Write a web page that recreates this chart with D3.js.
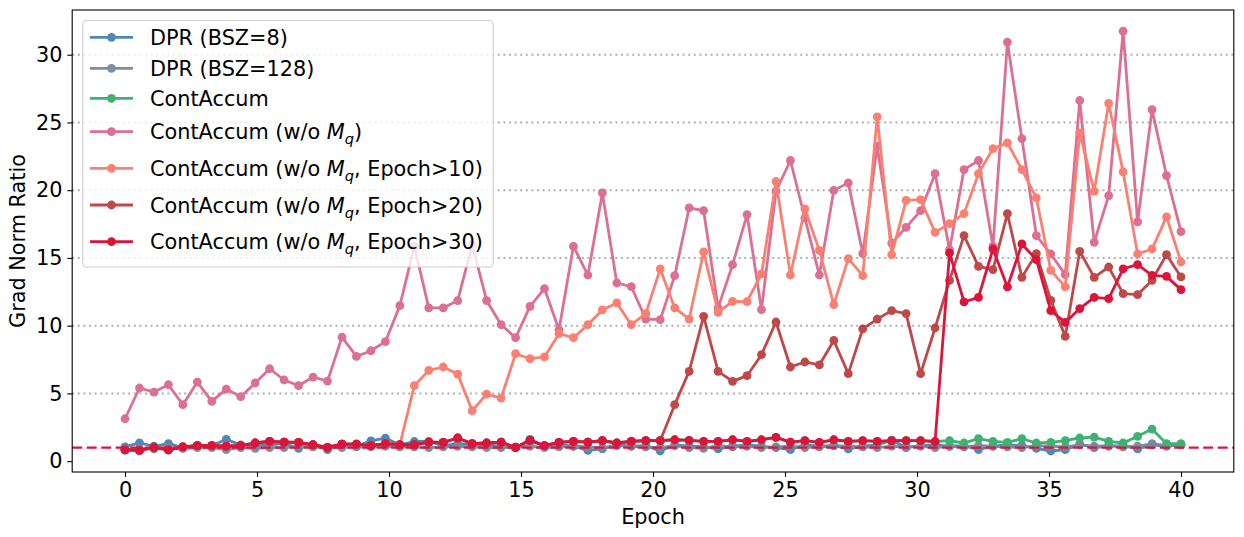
<!DOCTYPE html>
<html><head><meta charset="utf-8">
<script src="https://cdn.jsdelivr.net/npm/d3@7"></script>
<style>body{margin:0;background:#fff} text{font-family:"DejaVu Sans",sans-serif;fill:#000}</style>
</head><body><svg id="c" width="1244" height="537"></svg>
<script>
const epochs = [0,0.548,1.096,1.644,2.192,2.740,3.288,3.836,4.384,4.932,5.479,6.027,6.575,7.123,7.671,8.219,8.767,9.315,9.863,10.411,10.959,11.507,12.055,12.603,13.151,13.699,14.247,14.795,15.342,15.890,16.438,16.986,17.534,18.082,18.630,19.178,19.726,20.274,20.822,21.370,21.918,22.466,23.014,23.562,24.110,24.658,25.205,25.753,26.301,26.849,27.397,27.945,28.493,29.041,29.589,30.137,30.685,31.233,31.781,32.329,32.877,33.425,33.973,34.521,35.068,35.616,36.164,36.712,37.260,37.808,38.356,38.904,39.452,40];

const dpr8 = [1.05,1.35,1.1,1.3,1.0,1.15,1.15,1.6,1.2,1.15,1.2,1.3,0.95,1.2,0.85,1.25,1.1,1.5,1.7,1.2,1.45,1.45,1.15,1.3,1.2,
1.2,1.1,1.0,1.6,1.1,1.2,1.1,0.8,0.9,1.2,1.1,1.15,0.75,1.2,1.1,1.05,0.9,1.1,1.2,1.1,1.0,0.85,1.2,1.1,1.15,
0.9,1.1,1.2,1.55,1.0,1.15,1.2,1.1,1.15,0.85,1.1,1.2,1.15,0.95,0.75,0.85,1.25,1.0,1.1,1.15,0.9,1.2,1.1,1.2];

const dpr128 = [0.85,0.9,0.9,1.0,0.95,1.0,1.0,0.85,1.0,0.95,1.0,1.0,1.1,1.05,1.0,1.0,1.05,1.05,1.1,1.05,1.05,1.0,1.05,1.1,1.05,
1.0,1.0,1.05,1.1,1.0,1.05,1.1,1.05,1.0,1.15,1.1,1.05,1.0,1.15,1.0,0.95,1.15,1.05,1.1,1.0,1.05,1.1,1.0,1.05,1.15,
1.1,1.05,1.0,1.1,1.05,1.1,1.0,1.1,1.05,1.15,1.1,1.05,1.0,1.15,1.1,1.05,1.2,1.1,1.15,1.05,1.1,1.3,1.15,1.2];

const contAccum = [0.84,0.79,1.01,0.84,1.06,1.14,1.14,1.11,1.14,1.34,1.46,1.41,1.38,1.21,1.01,1.26,1.26,1.14,1.29,1.21,1.21,1.41,1.38,1.71,1.29,
1.34,1.41,1.01,1.53,1.14,1.38,1.46,1.41,1.51,1.34,1.46,1.51,1.51,1.58,1.53,1.46,1.46,1.58,1.46,1.58,1.75,1.41,1.51,1.38,1.58,
1.46,1.51,1.46,1.51,1.51,1.51,1.45,1.51,1.34,1.66,1.46,1.38,1.66,1.34,1.38,1.51,1.71,1.78,1.46,1.34,1.83,2.37,1.29,1.29];

const noMq = [3.13,5.40,5.10,5.64,4.17,5.84,4.41,5.32,4.76,5.77,6.82,5.99,5.57,6.21,5.91,9.16,7.73,8.15,8.82,11.48,
15.86,11.31,11.31,11.85,15.98,11.85,10.07,9.11,11.43,12.73,9.70,15.86,13.74,19.80,13.15,12.88,10.49,10.44,
13.69,18.69,18.49,11.31,14.5,18.2,11.18,19.92,22.19,17.95,13.74,19.99,20.54,15.32,23.25,16.1,17.26,18.49,
21.22,15.61,21.52,22.19,15.86,30.92,23.81,16.65,15.29,13.77,26.62,16.15,19.6,31.74,17.66,25.95,21.08,16.94];

const noMq10 = [0.84,0.79,1.01,0.84,1.06,1.14,1.14,1.11,1.14,1.34,1.46,1.41,1.38,1.21,1.01,1.26,1.26,1.14,1.29,1.21,
5.57,6.70,6.95,6.43,3.72,4.95,4.66,7.93,7.56,7.69,9.41,9.11,10.07,11.16,11.68,10.07,10.89,14.19,
11.31,10.49,15.44,10.98,11.8,11.77,13.82,20.64,13.74,18.62,15.56,11.55,14.95,13.69,25.41,15.24,19.25,19.31,
16.89,17.53,18.27,21.22,23.07,23.49,21.52,19.43,14.08,12.86,24.23,19.92,26.4,21.35,15.29,15.66,18.03,14.7];

const noMq20 = [0.84,0.79,1.01,0.84,1.06,1.14,1.14,1.11,1.14,1.34,1.46,1.41,1.38,1.21,1.01,1.26,1.26,1.14,1.29,1.21,1.21,1.41,1.38,1.71,1.29,
1.34,1.41,1.01,1.53,1.14,1.38,1.46,1.41,1.51,1.34,1.46,1.51,1.51,
4.17,6.63,10.69,6.63,5.89,6.31,7.86,10.27,6.95,7.32,7.10,8.91,6.46,9.76,10.49,11.11,10.89,6.46,
9.83,13.35,16.65,14.38,14.14,18.27,13.57,15.32,11.87,9.21,15.49,13.57,14.33,12.36,12.29,13.35,15.24,13.6];

const noMq30 = [0.84,0.79,1.01,0.84,1.06,1.14,1.14,1.11,1.14,1.34,1.46,1.41,1.38,1.21,1.01,1.26,1.26,1.14,1.29,1.21,1.21,1.41,1.38,1.71,1.29,
1.34,1.41,1.01,1.53,1.14,1.38,1.46,1.41,1.51,1.34,1.46,1.51,1.51,1.58,1.53,1.46,1.46,1.58,1.46,1.58,1.75,1.41,1.51,1.38,1.58,
1.46,1.51,1.46,1.51,1.51,1.51,1.45,
15.37,11.75,12.09,15.66,12.86,16.03,14.87,11.11,10.24,11.26,12.09,11.99,14.19,14.5,13.72,13.64,12.66];

const xTicks = [0,5,10,15,20,25,30,35,40];
const yTicks = [0,5,10,15,20,25,30];
const gridTicks = [5,10,15,20,25,30];
const refLine = 1;

const seriesNames = ["DPR (BSZ=8)","DPR (BSZ=128)","ContAccum","ContAccum (w/o M_q)","ContAccum (w/o M_q, Epoch>10)","ContAccum (w/o M_q, Epoch>20)","ContAccum (w/o M_q, Epoch>30)"];
const seriesValues = [dpr8, dpr128, contAccum, noMq, noMq10, noMq20, noMq30];
const seriesColors = ["#4682b4","#778899","#3cb371","#db7093","#fa8072","#b22222","#dc143c"];
const seriesOpacity = [0.95,0.95,1,1,1,0.82,1];

const W = 1244, H = 537;
const L = 72.2, R = 1233.8, T = 10, B = 472;
const svg = d3.select("#c");
const x = d3.scaleLinear().domain([-2, 42]).range([L, R]);
const y = d3.scaleLinear().domain([-0.8, 33.3]).range([B, T]);

// grid
svg.append("g").selectAll("line").data(gridTicks).join("line")
  .attr("x1", L).attr("x2", R).attr("y1", d => y(d)).attr("y2", d => y(d))
  .attr("stroke", "#b0b0b0").attr("stroke-width", 2).attr("stroke-dasharray", "2,3.6");

// series
const line = d3.line().x((d, i) => x(epochs[i])).y(d => y(d));
seriesValues.forEach((vals, k) => {
  const g = svg.append("g").attr("opacity", seriesOpacity[k]);
  g.append("path").attr("d", line(vals)).attr("fill", "none")
    .attr("stroke", seriesColors[k]).attr("stroke-width", 2.8).attr("stroke-linejoin", "round");
  g.selectAll("circle").data(vals).join("circle")
    .attr("cx", (d, i) => x(epochs[i])).attr("cy", d => y(d)).attr("r", 4.4)
    .attr("fill", seriesColors[k]);
});

// reference line
svg.append("line").attr("x1", L).attr("x2", R).attr("y1", y(refLine)).attr("y2", y(refLine))
  .attr("stroke", "#dc143c").attr("stroke-width", 2.2).attr("stroke-dasharray", "10,4.5");

// axes
const xAxis = d3.axisBottom(x).tickValues(xTicks).tickSize(4.9).tickPadding(4.9).tickFormat(d3.format("d"));
const yAxis = d3.axisLeft(y).tickValues(yTicks).tickSize(4.9).tickPadding(4.9).tickFormat(d3.format("d"));
const gx = svg.append("g").attr("transform", `translate(0,${B})`).call(xAxis);
const gy = svg.append("g").attr("transform", `translate(${L},0)`).call(yAxis);
[gx, gy].forEach(g => {
  g.select(".domain").remove();
  g.selectAll("line").attr("stroke", "#000").attr("stroke-width", 1.1);
  g.selectAll("text").attr("font-size", 20.8).attr("font-family", "DejaVu Sans").attr("fill", "#000");
});
// frame
svg.append("rect").attr("x", L).attr("y", T).attr("width", R - L).attr("height", B - T)
  .attr("fill", "none").attr("stroke", "#000").attr("stroke-width", 1.1);

svg.append("text").attr("x", (L + R) / 2).attr("y", 524).attr("text-anchor", "middle")
  .attr("font-size", 20.8).text("Epoch");
svg.append("text").attr("transform", `translate(25,${(T + B) / 2}) rotate(-90)`).attr("text-anchor", "middle")
  .attr("font-size", 20.8).text("Grad Norm Ratio");

// legend
const lg = svg.append("g");
lg.append("rect").attr("x", 82.7).attr("y", 20.5).attr("width", 410.5).attr("height", 246.5).attr("rx", 4)
  .attr("fill", "#fff").attr("fill-opacity", 0.8).attr("stroke", "#d0d0d0").attr("stroke-width", 1.1);
const rowY = [37.3, 68.3, 98.3, 131.7, 168.3, 205, 241.7];
seriesNames.forEach((name, k) => {
  const g = lg.append("g").attr("opacity", seriesOpacity[k]);
  g.append("line").attr("x1", 90).attr("x2", 133).attr("y1", rowY[k]).attr("y2", rowY[k])
    .attr("stroke", seriesColors[k]).attr("stroke-width", 2.8);
  g.append("circle").attr("cx", 111.5).attr("cy", rowY[k]).attr("r", 4.4).attr("fill", seriesColors[k]);
  const t = lg.append("text").attr("x", 150).attr("y", rowY[k] + 7.5).attr("font-size", 20.8);
  const parts = name.split("M_q");
  if (parts.length === 1) { t.text(name); }
  else {
    t.append("tspan").text(parts[0]);
    t.append("tspan").attr("font-style", "italic").text("M");
    t.append("tspan").attr("font-style", "italic").attr("font-size", 14.6).attr("dy", 5).text("q");
    t.append("tspan").attr("dy", -5).text(parts[1]);
  }
});
</script></body></html>
